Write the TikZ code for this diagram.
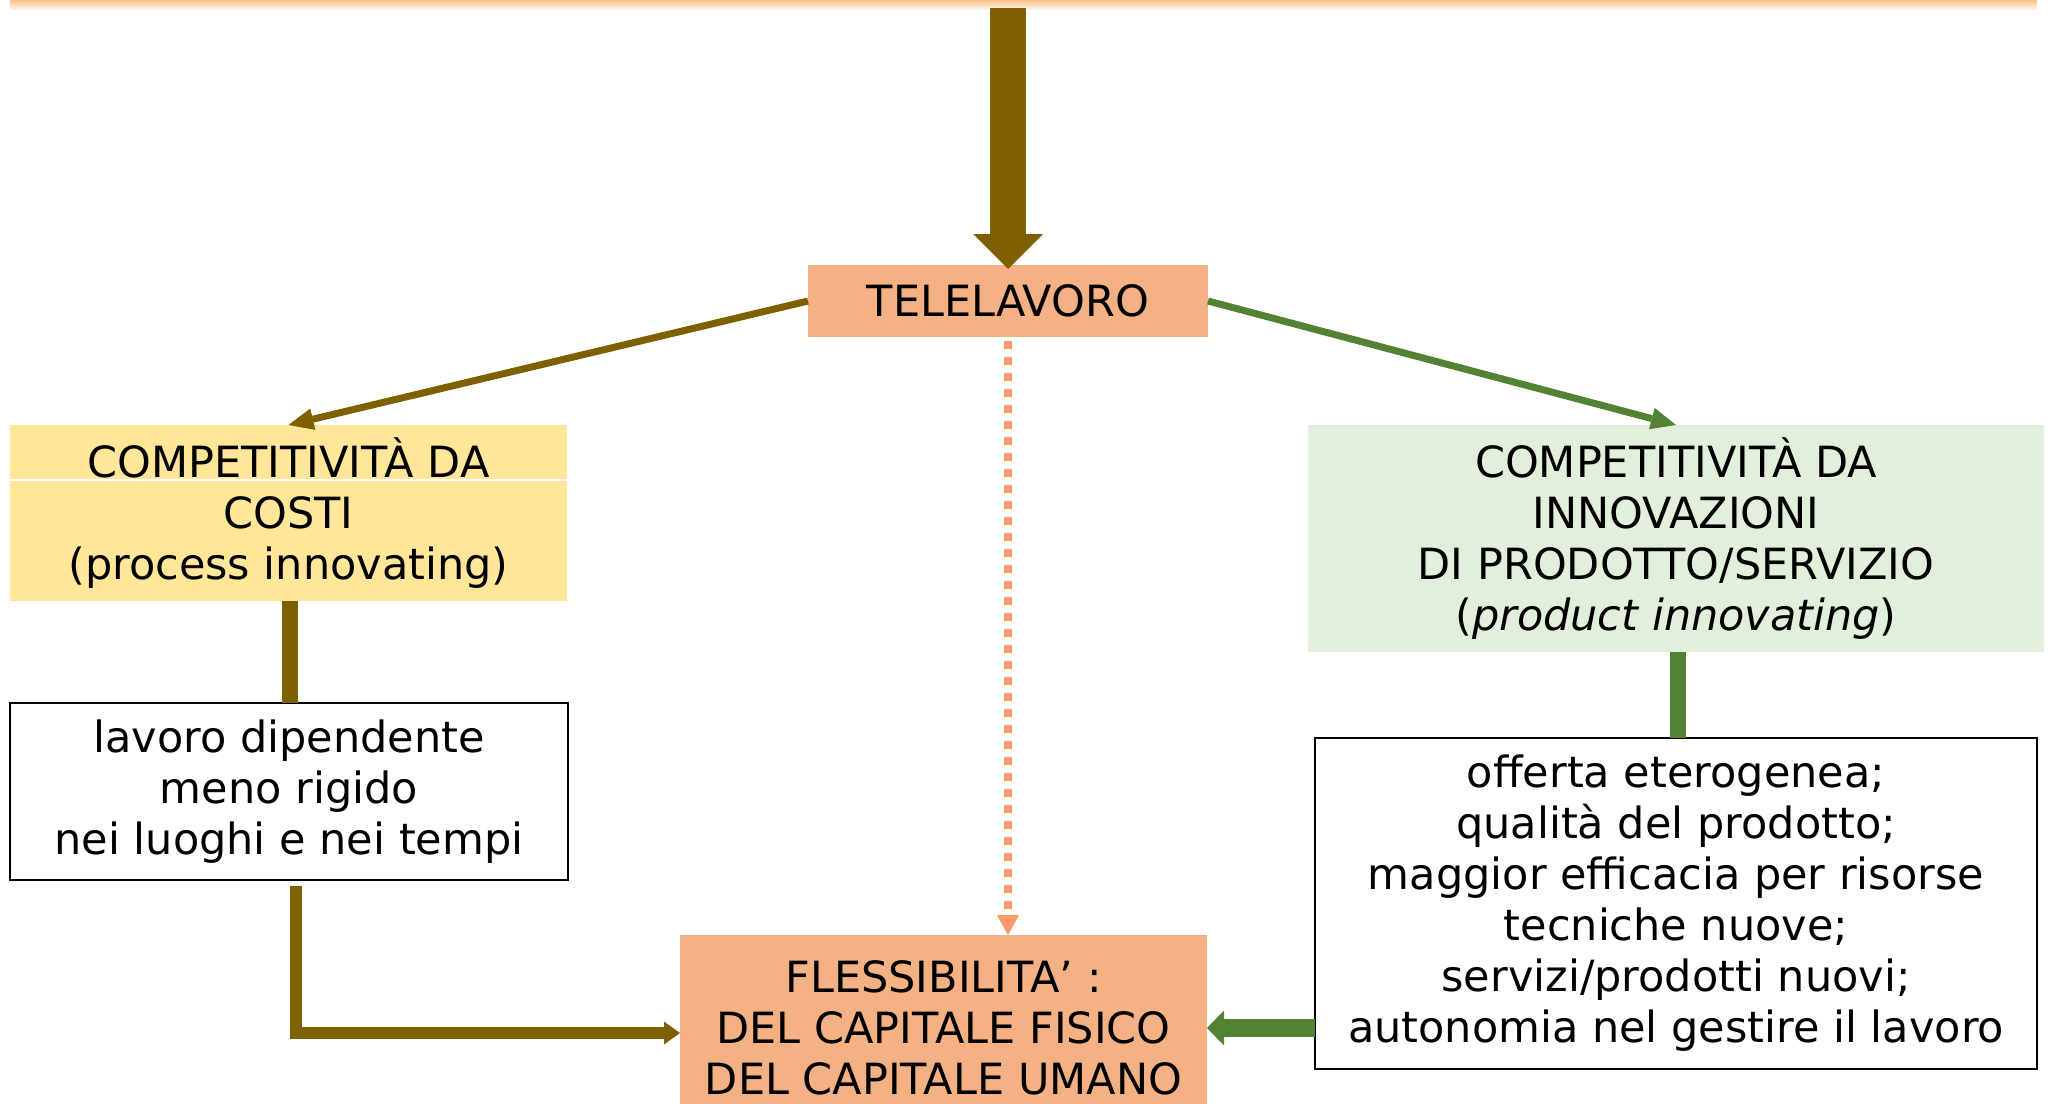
\documentclass[tikz,border=0pt]{standalone}
\usepackage{fontspec}
\setmainfont{DejaVu Sans}
\usetikzlibrary{arrows.meta}
\definecolor{brownA}{HTML}{7F6000}
\definecolor{greenA}{HTML}{548235}
\definecolor{orangeA}{HTML}{F4B183}
\definecolor{yellowA}{HTML}{FFE699}
\definecolor{lgreen}{HTML}{E2EFDA}
\definecolor{dotc}{HTML}{F9996A}
\definecolor{bandtop}{HTML}{F8C18E}
\definecolor{bandbot}{HTML}{FFF4E6}
\begin{document}
\begin{tikzpicture}[x=0.5pt,y=-0.5pt,
  box/.style={inner sep=0pt,outer sep=0pt,align=center,font=\fontsize{21.5pt}{25.5pt}\selectfont},
  framed/.style={box,fill=white,draw=black,line width=1pt},
  thinarrow/.style={line width=3.5pt,-{Triangle[length=12.5pt,width=11pt,line width=0pt]}},
  bigarrow/.style={brownA,line width=18pt,-{Triangle[length=17.5pt,width=35pt,line width=0pt]}},
  elbowline/.style={brownA,line width=6pt,-{Triangle[length=8pt,width=11.5pt,line width=0pt]}},
  greenbig/.style={greenA,line width=9pt,-{Triangle[length=8.5pt,width=17.5pt,line width=0pt]}},
  dotline/.style={dotc,line width=4pt,dash pattern=on 4pt off 4pt,-{Triangle[length=10pt,width=11pt,line width=0pt]}}
]
\useasboundingbox (0,0) rectangle (2053,1104);
% top band
\shade[top color=bandtop,bottom color=bandbot] (10,0) rectangle (2037,9);

% nodes
\node[box,fill=orangeA,minimum width=200pt,minimum height=36pt] (tele) at (1008,301) {TELELAVORO};
\node[box,fill=yellowA,minimum width=278.5pt,minimum height=88pt] (cost) at (288.5,513)
  {COMPETITIVITÀ DA\\COSTI\\(process innovating)};
\draw[white,line width=0.8pt] (cost.west |- 0,480) -- (cost.east |- 0,480);
\node[box,fill=lgreen,minimum width=368pt,minimum height=113.5pt] (innov) at (1676,538.5)
  {COMPETITIVITÀ DA\\INNOVAZIONI\\DI PRODOTTO/SERVIZIO\\(\textit{product innovating})};
\node[framed,minimum width=279pt,minimum height=88.5pt] (lav) at (289,791.5)
  {lavoro dipendente\\meno rigido\\nei luoghi e nei tempi};
\node[framed,minimum width=361pt,minimum height=165.5pt] (off) at (1676,903.5)
  {offerta eterogenea;\\qualità del prodotto;\\maggior efficacia per risorse\\tecniche nuove;\\servizi/prodotti nuovi;\\autonomia nel gestire il lavoro};
\node[box,fill=orangeA,minimum width=263.5pt,minimum height=93pt] (fless) at (943.5,1028)
  {FLESSIBILITA’ :\\DEL CAPITALE FISICO\\DEL CAPITALE UMANO};

% connectors
\coordinate (src) at (1008,8);
\draw[bigarrow] (src) -- ([yshift=-2pt]tele.north);
\draw[thinarrow,brownA] (tele.west) -- (cost.north);
\draw[thinarrow,greenA] (tele.east) -- (innov.north);
\draw[dotline] ([yshift=-2pt]tele.south) -- (tele.south |- fless.north);
\draw[brownA,line width=8pt] ([xshift=0.5pt]cost.south) -- ([xshift=0.5pt]cost.south |- lav.north);
\draw[greenA,line width=8pt] ([xshift=1pt]innov.south) -- ([xshift=1pt]innov.south |- off.north);
\draw[elbowline] ([xshift=3.5pt,yshift=-3pt]lav.south) |- ([yshift=-2.5pt]fless.west);
\draw[greenbig] (fless.east -| off.west) -- (fless.east);
\end{tikzpicture}
\end{document}
